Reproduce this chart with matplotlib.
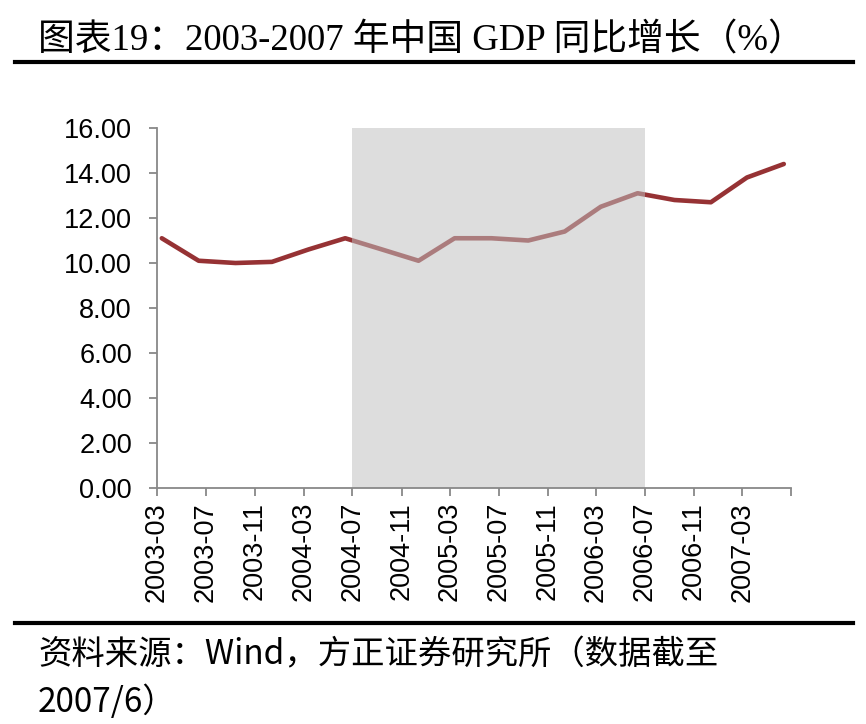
import matplotlib
matplotlib.use('Agg')
import matplotlib.pyplot as plt
from matplotlib.lines import Line2D
import pandas as pd

# data (quarterly GDP yoy, %)
quarters = ['2003-03', '2003-06', '2003-09', '2003-12',
            '2004-03', '2004-06', '2004-09', '2004-12',
            '2005-03', '2005-06', '2005-09', '2005-12',
            '2006-03', '2006-06', '2006-09', '2006-12',
            '2007-03', '2007-06']
gdp_yoy = [11.1, 10.1, 10.0, 10.05,
           10.6, 11.1, 10.6, 10.1,
           11.1, 11.1, 11.0, 11.4,
           12.5, 13.1, 12.8, 12.7,
           13.8, 14.4]
shade_start = '2004-07'
shade_end = '2006-07'
tick_months = ['2003-03', '2003-07', '2003-11', '2004-03', '2004-07', '2004-11',
               '2005-03', '2005-07', '2005-11', '2006-03', '2006-07', '2006-11',
               '2007-03', '2007-07']
tick_labels = tick_months[:-1] + ['']
yticks = [0, 2, 4, 6, 8, 10, 12, 14, 16]

title = '图表19：2003-2007 年中国 GDP 同比增长（%）'
source1 = '资料来源：Wind，方正证券研究所（数据截至'
source2 = '2007/6）'

W, H = 866, 724
fig = plt.figure(figsize=(W / 100, H / 100), dpi=100)
ax = fig.add_axes([157 / W, (H - 488) / H, (791 - 157) / W, (488 - 128) / H])

x = pd.to_datetime(quarters) + pd.Timedelta(days=12)
ax.plot(x, gdp_yoy, color='#963234', lw=3.3, solid_capstyle='round', zorder=2)
# translucent gray band over the line (gives the faded line inside)
ax.axvspan(pd.to_datetime(shade_start), pd.to_datetime(shade_end),
           color='#BFBFBF', alpha=0.53, lw=0, zorder=3)

ax.set_xlim(pd.to_datetime(tick_months[0]), pd.to_datetime(tick_months[-1]))
ax.set_ylim(0, 16)
ax.set_xticks(pd.to_datetime(tick_months))
ax.set_xticklabels(tick_labels, rotation=90, family='Liberation Sans', fontsize=19.5)
ax.set_yticks(yticks)
ax.set_yticklabels(['%.2f' % v for v in yticks], family='Liberation Sans', fontsize=19.5)

for s in ['top', 'right']:
    ax.spines[s].set_visible(False)
for s in ['left', 'bottom']:
    ax.spines[s].set_color('#888888')
    ax.spines[s].set_linewidth(1.3)
    ax.spines[s].set_zorder(4)
ax.tick_params(axis='y', length=6, width=1.3, color='#888888', pad=12)
ax.tick_params(axis='x', length=6, width=1.3, color='#888888', pad=4)

cjk = ['Liberation Serif', 'Noto Sans CJK SC']
fig.text(38 / W, 1 - 41 / H, title, family=cjk, fontsize=26.5, va='center', ha='left')
fig.text(38 / W, 1 - 655 / H, source1, family=['Noto Sans CJK SC'], fontsize=24,
         style='italic', va='center', ha='left')
fig.text(38 / W, 1 - 703 / H, source2, family=['Noto Sans CJK SC'], fontsize=24,
         style='italic', va='center', ha='left')

for yy in [62, 623]:
    fig.add_artist(Line2D([15 / W, 853 / W], [1 - yy / H, 1 - yy / H],
                          color='black', lw=3, transform=fig.transFigure))

fig.savefig('out.png', dpi=100)
